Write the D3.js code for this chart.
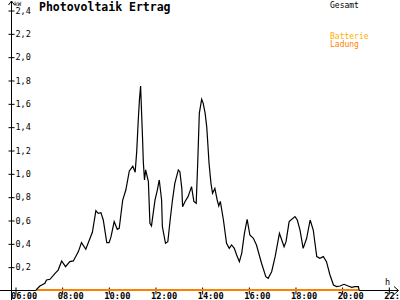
<!DOCTYPE html>
<html>
<head>
<meta charset="utf-8">
<script src="https://cdn.jsdelivr.net/npm/d3@7"></script>
<style>
  body { margin: 0; background: #fff; }
  svg { display: block; }
  text { font-family: "DejaVu Sans Mono", monospace; }
</style>
</head>
<body>
<svg width="400" height="300"></svg>
<script>
// Gesamt (total) output: time, kW
const gesamtTimes = ["06:54","07:04","07:17","07:21","07:30","07:43","07:51","08:00","08:10","08:21",
  "08:30","08:43","08:51","09:02","09:13","09:19","09:28","09:34","09:41","09:47",
  "09:56","10:02","10:07","10:15","10:23","10:28","10:37","10:45","10:54","11:03",
  "11:09","11:13","11:17","11:20","11:23","11:28","11:30","11:33","11:36","11:43",
  "11:47","11:51","12:00","12:06","12:11","12:17","12:19","12:27","12:33","12:39",
  "12:45","12:51","13:00","13:04","13:09","13:11","13:17","13:25","13:34","13:40",
  "13:46","13:50","13:54","14:00","14:04","14:09","14:13","14:15","14:19","14:24",
  "14:28","14:34","14:40","14:44","14:48","14:56","15:04","15:11","15:17","15:24",
  "15:30","15:37","15:43","15:50","15:57","16:04","16:13","16:21","16:34","16:45",
  "16:51","17:00","17:09","17:20","17:26","17:32","17:37","17:45","18:00","18:06",
  "18:13","18:21","18:30","18:39","18:47","18:56","19:04","19:13","19:21","19:30",
  "19:39","19:47","19:56","20:06","20:17","20:26","20:34","20:43","20:45"];
const gesamtValues = [0.0,0.034,0.057,0.086,0.092,0.143,0.171,0.249,0.20,0.243,
  0.249,0.329,0.406,0.349,0.443,0.495,0.68,0.657,0.663,0.60,
  0.406,0.406,0.457,0.586,0.52,0.529,0.771,0.857,1.02,1.06,
  1.01,1.186,1.457,1.63,1.749,1.30,1.10,0.943,1.03,0.929,
  0.571,0.549,0.771,0.857,0.943,0.771,0.543,0.40,0.414,0.60,
  0.771,0.914,1.029,1.014,0.871,0.714,0.757,0.80,0.886,0.76,
  0.743,1.10,1.514,1.635,1.60,1.514,1.40,1.30,1.086,0.914,
  0.829,0.871,0.771,0.72,0.76,0.60,0.40,0.357,0.386,0.357,
  0.30,0.243,0.314,0.486,0.606,0.471,0.443,0.386,0.229,0.114,
  0.10,0.157,0.286,0.486,0.429,0.371,0.414,0.586,0.629,0.60,
  0.514,0.357,0.443,0.60,0.514,0.286,0.271,0.286,0.243,0.129,
  0.043,0.029,0.034,0.049,0.034,0.023,0.029,0.029,0.0];

// Batterie Ladung (battery charge)
const ladungTimes = ["06:54","20:45"];
const ladungValues = [0, 0];

const yTicks = [0.2,0.4,0.6,0.8,1.0,1.2,1.4,1.6,1.8,2.0,2.2,2.4];
const xTickHours = [6,8,10,12,14,16,18,20,22];

const svg = d3.select("svg");
const parse = d3.timeParse("%H:%M");
const hour = h => new Date(1900, 0, 1, h, 0);

const x = d3.scaleTime().domain([hour(6), hour(22)]).range([15, 388.3]);
const y = d3.scaleLinear().domain([0, 2.4]).range([290, 10]);

// axis lines with arrows
svg.append("line").attr("x1", 11.5).attr("x2", 11.5).attr("y1", 1).attr("y2", 300)
  .attr("stroke", "#000");
svg.append("path").attr("d", "M8.5,5 L11.5,1 L14.5,5").attr("fill", "none").attr("stroke", "#000");
svg.append("line").attr("x1", 0).attr("x2", 398).attr("y1", 290.5).attr("y2", 290.5)
  .attr("stroke", "#000");
svg.append("path").attr("d", "M394,286.5 L398.5,290.5 L394,294.5").attr("fill", "none").attr("stroke", "#000");

// y axis ticks and labels
const yAxis = svg.append("g")
  .attr("transform", "translate(11.5,0.5)")
  .call(d3.axisRight(y).tickValues(yTicks).tickSize(3).tickPadding(1)
    .tickFormat(d => d3.format(".1f")(d).replace(".", ",")));
yAxis.select(".domain").remove();
yAxis.selectAll(".tick line").attr("x1", -3).attr("stroke", "#000");
yAxis.selectAll(".tick text").style("font-size", "8.5px").attr("fill", "#000");

// x axis ticks and labels
const xAxis = svg.append("g")
  .attr("transform", "translate(0.5,290.5)")
  .call(d3.axisBottom(x).tickValues(xTickHours.map(hour)).tickSize(4)
    .tickFormat(d3.timeFormat("%H:%M")));
xAxis.select(".domain").remove();
xAxis.selectAll(".tick line").attr("y1", -3).attr("stroke", "#000");
xAxis.selectAll(".tick text")
  .attr("text-anchor", "start").attr("x", -5).attr("y", 8.5).attr("dy", 0)
  .style("font-size", "8.7px").style("font-weight", "bold").attr("fill", "#000");

// unit labels
svg.append("text").attr("x", 14).attr("y", 6).text("kW").style("font-size", "6px");
svg.append("text").attr("x", 385).attr("y", 284.5).text("h").style("font-size", "8.5px");

// title and legend
svg.append("text").attr("x", 39).attr("y", 11).text("Photovoltaik Ertrag")
  .style("font-size", "11.5px").style("font-weight", "bold");
svg.append("text").attr("x", 330).attr("y", 7.5).text("Gesamt").style("font-size", "8px");
svg.append("text").attr("x", 330).attr("y", 38.5).text("Batterie")
  .style("font-size", "8px").attr("fill", "#ffae00");
svg.append("text").attr("x", 330).attr("y", 47).text("Ladung")
  .style("font-size", "8px").attr("fill", "#ff8000");

const line = d3.line().x(d => x(d[0])).y(d => y(d[1]));

svg.append("path")
  .datum(ladungTimes.map((t, i) => [parse(t), ladungValues[i]]))
  .attr("d", line)
  .attr("fill", "none").attr("stroke", "#ff8000").attr("stroke-width", 2);

svg.append("path")
  .datum(gesamtTimes.map((t, i) => [parse(t), gesamtValues[i]]))
  .attr("d", line)
  .attr("fill", "none").attr("stroke", "#000").attr("stroke-width", 1.2);
</script>
</body>
</html>
